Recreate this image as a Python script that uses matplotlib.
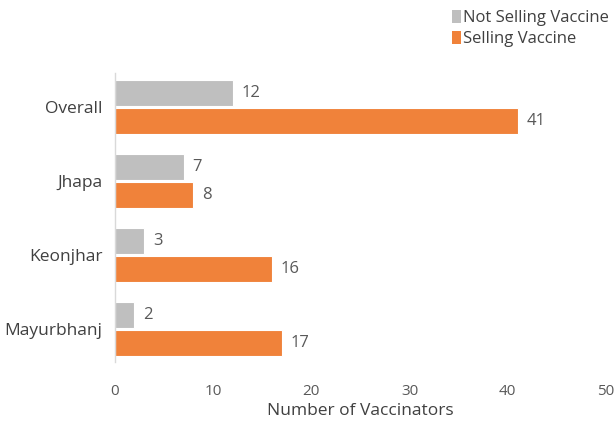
import matplotlib.pyplot as plt
import numpy as np
from matplotlib.patches import Patch

plt.rcParams["font.family"] = ["Open Sans", "DejaVu Sans"]

regions = ["Overall", "Jhapa", "Keonjhar", "Mayurbhanj"]
not_selling = [12, 7, 3, 2]
selling = [41, 8, 16, 17]

GRAY = "#BFBFBF"
ORANGE = "#F0823A"
TEXT = "#595959"

fig = plt.figure(figsize=(6.14, 4.21), dpi=100)
ax = fig.add_axes([0.187, 0.14, 0.800, 0.687])

y = np.arange(len(regions))
h = 0.355
ax.barh(y - h / 2 - 0.01, not_selling, height=h, color=GRAY, edgecolor="white", linewidth=0.8)
ax.barh(y + h / 2 + 0.01, selling, height=h, color=ORANGE, edgecolor="white", linewidth=0.8)

for yi, v in zip(y, not_selling):
    ax.text(v + 0.9, yi - h / 2 - 0.01, str(v), va="center", ha="left", fontsize=12, color=TEXT)
for yi, v in zip(y, selling):
    ax.text(v + 0.9, yi + h / 2 + 0.01, str(v), va="center", ha="left", fontsize=12, color=TEXT)

ax.set_xlim(0, 50)
ax.set_ylim(3.45, -0.46)
ax.set_yticks(y)
ax.set_yticklabels(regions, fontsize=12.5, color="#404040")
ax.set_xticks([0, 10, 20, 30, 40, 50])
ax.tick_params(axis="x", length=0, labelsize=11, labelcolor=TEXT, pad=16)
ax.tick_params(axis="y", length=0, pad=9)
ax.set_xlabel("Number of Vaccinators", fontsize=12.5, color="#404040", va="center")
ax.xaxis.set_label_coords(0.5, -0.168)

for side in ["top", "right", "bottom"]:
    ax.spines[side].set_visible(False)
ax.spines["left"].set_color("#D9D9D9")
ax.spines["left"].set_linewidth(1.0)

handles = [
    Patch(facecolor=GRAY, edgecolor="none", label="Not Selling Vaccine"),
    Patch(facecolor=ORANGE, edgecolor="none", label="Selling Vaccine"),
]
fig.legend(
    handles=handles,
    loc="upper left",
    bbox_to_anchor=(0.712, 1.012),
    frameon=False,
    fontsize=12,
    handlelength=0.5,
    handleheight=0.8,
    handletextpad=0.15,
    labelspacing=0.3,
    labelcolor="#404040",
)

fig.savefig("out.png", dpi=100)
